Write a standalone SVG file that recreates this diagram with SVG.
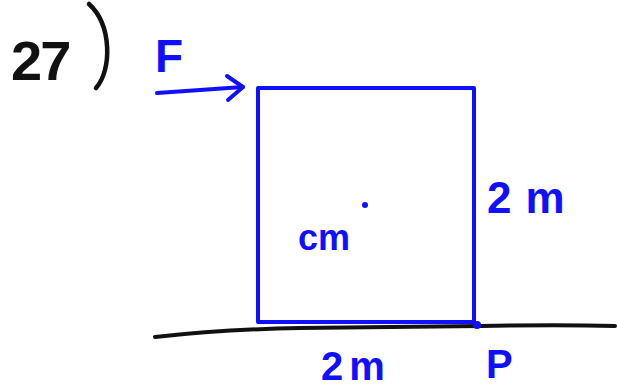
<svg xmlns="http://www.w3.org/2000/svg" width="617" height="389" viewBox="0 0 617 389">
<style>
.lbl{font-family:"Liberation Sans",Arial,sans-serif;fill:#1010ff;font-weight:bold}
.blue{stroke:#1010ff;fill:none;stroke-width:4;stroke-linecap:round;stroke-linejoin:round}
</style>
<rect width="617" height="389" fill="#fff"/>
<g id="title">
<text x="11" y="80" font-family="Liberation Sans,Arial,sans-serif" font-size="56" font-weight="bold" letter-spacing="-2" fill="#111">27</text>
<path d="M89 4 C112 25 112 70 96 88" stroke="#111" stroke-width="4.5" fill="none" stroke-linecap="round"/>
</g>
<g id="ground">
<path d="M155 337 C200 332 240 329 300 328 L480 326 C530 325 580 325 615 326" stroke="#111" stroke-width="4" fill="none" stroke-linecap="round"/>
</g>
<g id="block">
<rect x="258" y="88" width="216" height="234" class="blue"/>
<circle cx="365" cy="205" r="3" fill="#1010ff"/>
<text class="lbl" x="298" y="250" font-size="36">cm</text>
<text class="lbl" x="487" y="213" font-size="44" letter-spacing="14">2m</text>
</g>
<g id="pointP">
<circle cx="477" cy="325" r="4" fill="#1010ff"/>
<text class="lbl" x="486" y="378" font-size="40">P</text>
</g>
<g id="base-label">
<text class="lbl" x="321" y="380" font-size="40" letter-spacing="6">2m</text>
</g>
<g id="connectors">
<path d="M157 93 L243 87" class="blue"/>
<path d="M227 76 L243 87 L228 100" class="blue"/>
<text class="lbl" x="155" y="72" font-size="46">F</text>
</g>
</svg>
